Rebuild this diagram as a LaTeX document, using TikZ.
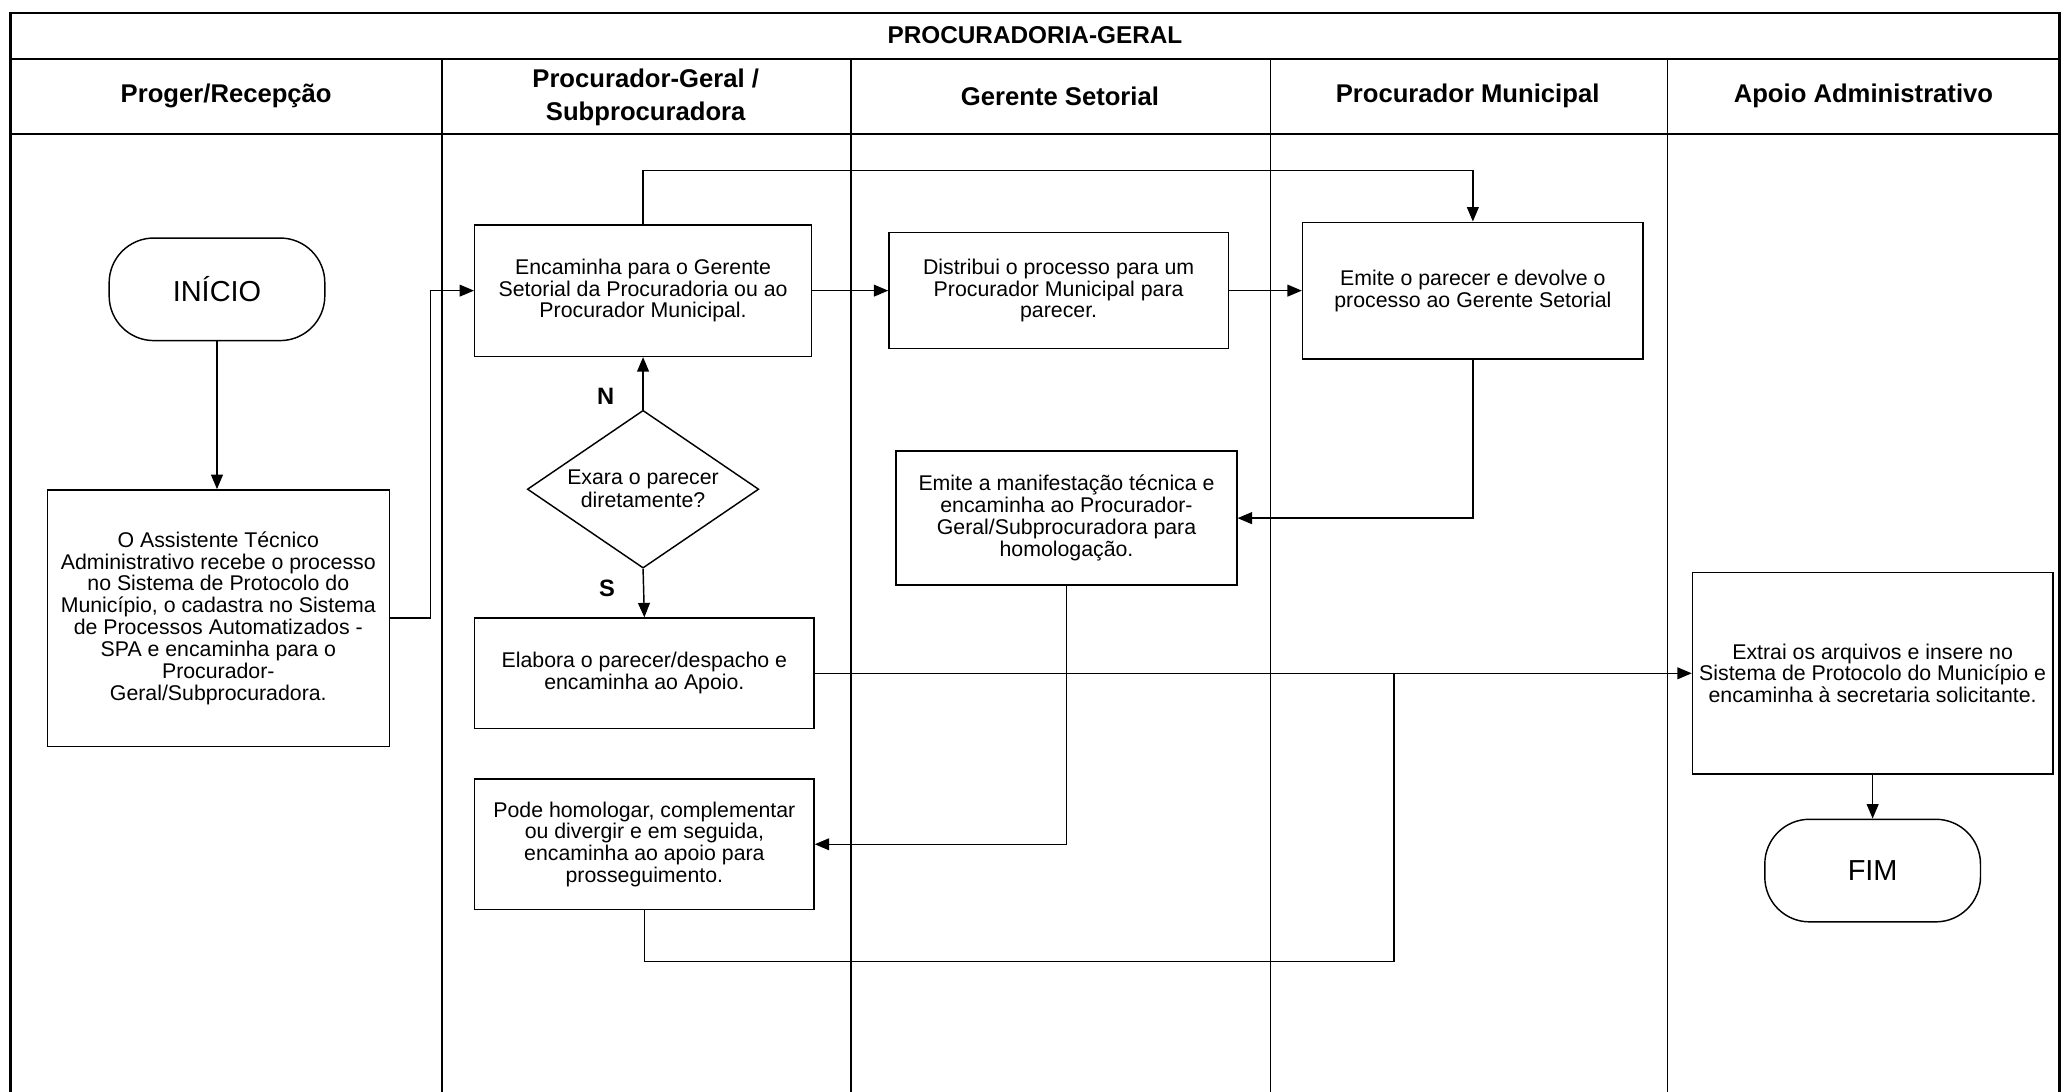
\documentclass[tikz,border=0pt]{standalone}
\usepackage{fontspec}
\setmainfont{Liberation Sans}
\usetikzlibrary{arrows.meta,shapes.geometric}

\tikzset{
  caixa/.style={draw, line width=1.1pt, align=center, inner sep=2pt, font=\fontsize{16.2}{16.6}\selectfont},
  terminal/.style={draw, line width=1.1pt, rounded corners=34pt, minimum width=164pt, minimum height=78pt, font=\fontsize{22}{24}\selectfont},
  decisao/.style={draw, diamond, line width=1.1pt, aspect=1.47, inner sep=0pt, minimum width=176pt, minimum height=120pt, align=center, font=\fontsize{16.2}{17.5}\selectfont},
  cabecalho/.style={align=center, font=\bfseries\fontsize{19.5}{25}\selectfont},
  rotulo/.style={font=\bfseries\fontsize{18}{20}\selectfont},
  seta/.style={line width=1.1pt, -{Triangle[length=11pt,width=9pt]}},
  linha/.style={line width=1.1pt},
  moldura/.style={line width=1.9pt}
}

\begin{document}
\begin{tikzpicture}[x=1pt, y=-1pt]
\useasboundingbox (0,0) rectangle (1568,830);
% moldura e raias
\draw[moldura] (8,830) -- (8,10) -- (1566,10) -- (1566,830);
\draw[moldura] (8,45) -- (1566,45) (8,102) -- (1566,102);
\foreach \x in {336,647,966,1268}
  \draw[linha] (\x,45) -- (\x,830);

\node[cabecalho, font=\bfseries\fontsize{18.5}{22}\selectfont] (titulo) at (787,27) {PROCURADORIA-GERAL};
\node[cabecalho] (raia1) at (172,73) {Proger/Recepção};
\node[cabecalho] (raia2) at (491,74) {Procurador-Geral /\\Subprocuradora};
\node[cabecalho] (raia3) at (806,73) {Gerente Setorial};
\node[cabecalho] (raia4) at (1116,73) {Procurador Municipal};
\node[cabecalho] (raia5) at (1417,73) {Apoio Administrativo};

% etapas
\node[terminal] (inicio) at (165,220) {INÍCIO};
\node[caixa, minimum width=260pt, minimum height=195pt] (recebe) at (166,470) {O Assistente Técnico\\Administrativo recebe o processo\\no Sistema de Protocolo do\\Município,  o cadastra no Sistema\\de Processos Automatizados -\\SPA e encaminha para o\\Procurador-\\Geral/Subprocuradora.};
\node[caixa, minimum width=256pt, minimum height=100pt] (encaminha) at (489,221) {Encaminha para o Gerente\\Setorial da Procuradoria ou ao\\Procurador Municipal.};
\node[decisao] (exara) at (489,372) {Exara o parecer\\diretamente?};
\node[caixa, minimum width=258pt, minimum height=84pt] (elabora) at (490,512) {Elabora o parecer/despacho e\\encaminha ao Apoio.};
\node[caixa, minimum width=258pt, minimum height=99pt] (homologa) at (490,642) {Pode homologar, complementar\\ou divergir e em seguida,\\encaminha ao apoio para\\prosseguimento.};
\node[caixa, minimum width=258pt, minimum height=88pt] (distribui) at (805,221) {Distribui o processo para um\\Procurador Municipal para\\parecer.};
\node[caixa, minimum width=259pt, minimum height=104pt] (parecer) at (1120,221) {Emite  o parecer e devolve o\\processo ao Gerente Setorial};
\node[caixa, minimum width=259pt, minimum height=102pt] (manifesta) at (811,394) {Emite  a manifestação técnica e\\encaminha ao Procurador-\\Geral/Subprocuradora para\\homologação.};
\node[caixa, minimum width=274pt, minimum height=153pt] (extrai) at (1424,512) {Extrai os arquivos e insere no\\Sistema de Protocolo do Município  e\\encaminha à secretaria solicitante.};
\node[terminal] (fim) at (1424,662) {FIM};
\coordinate (juncao) at (1060,512);

% fluxo
\draw[seta] (inicio.south) -- (inicio.south |- recebe.north);
\draw[seta] (recebe.east) -- ++(31,0) |- (encaminha.west);
\draw[seta] (encaminha) -- (distribui);
\draw[seta] (distribui) -- (parecer);
\draw[seta] (encaminha.north) -- ++(0,-41) -| (parecer.north);
\draw[seta] (parecer.south) |- (manifesta.east);
\draw[seta] (exara.north) -- node[rotulo, pos=0.25, left=18pt] (nao) {N} (encaminha.south);
\draw[seta] (exara.south) -- node[rotulo, pos=0.4, left=18pt] (sim) {S} (elabora.north);
\draw[seta] (manifesta.south) |- (homologa.east);
\draw[seta] (elabora) -- (extrai);
\draw[linha] (homologa.south) -- ++(0,39) -| (juncao);
\draw[seta] (extrai) -- (fim);
\end{tikzpicture}
\end{document}
